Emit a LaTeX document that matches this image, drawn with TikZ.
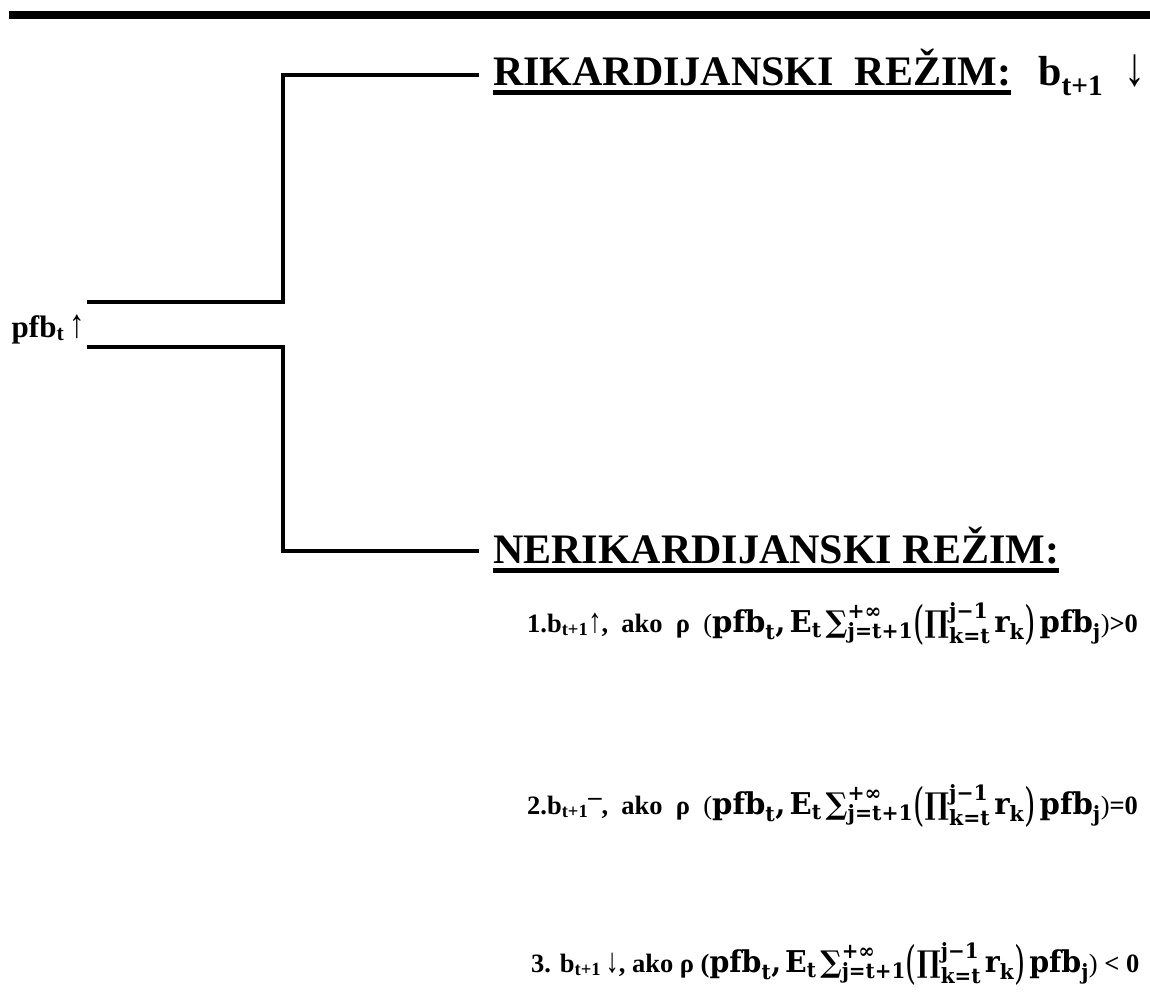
\documentclass[tikz,border=0pt]{standalone}
\usepackage{fontspec}
\usepackage{amsmath}
\usepackage{graphicx}
\setmainfont{Liberation Serif}
\newfontfamily\mf{DejaVu Serif}
\newcommand\Mb[1]{\text{\mf\bfseries #1}}
\newcommand\bp[1]{\mbox{\raisebox{-0.22em}{\scalebox{1}[1.5]{\mf\mdseries #1}}}}
\newcommand\tall[1]{{\mdseries\scalebox{1}[1.3]{#1}}}
\newcommand\formula[1]{\scalebox{#1}[1]{\fontsize{30}{36}\selectfont$\Mb{pfb}_{\Mb{t}}\Mb{,}\,\Mb{E}_{\Mb{t}}\,\Mb{∑}_{\Mb{j=t+1}}^{\Mb{+∞}}\bp(\Mb{∏}_{\Mb{k=t}}^{\Mb{j−1}}\,\Mb{r}_{\Mb{k}}\bp)\,\Mb{pfb}_{\Mb{j}}$}}
\tikzset{
  conn/.style={line width=3.5pt, line join=miter},
  topbar/.style={line width=8pt},
  uline/.style={line width=5pt},
  title/.style={inner sep=0pt, anchor=base west, font=\fontsize{42}{48}\selectfont\bfseries},
  cond/.style={inner sep=0pt, anchor=base west, font=\fontsize{26.5}{32}\selectfont\bfseries},
  src/.style={inner sep=0pt, anchor=base west, font=\fontsize{31}{36}\selectfont\bfseries}
}
\begin{document}
\begin{tikzpicture}[x=1pt,y=-1pt]
\useasboundingbox (0,0) rectangle (1150,1005);
% top rule
\coordinate (barL) at (9,14.5);
\coordinate (barR) at (1150,14.5);
\draw[topbar] (barL) -- (barR);
% source node
\node[src] (pfb) at (11.5,337) {pfb\textsubscript{t}\,\tall{↑}};
% titles
\node[title] (rik) at (493,85) {RIKARDIJANSKI\ \ REŽIM:};
\draw[uline] ([yshift=-7.5pt]rik.base west) -- ([yshift=-7.5pt]rik.base east);
\node[title] (rikb) at (1038,85) {b\textsubscript{t+1}\ \ \tall{↓}};
\node[title] (ner) at (493,563) {NERIKARDIJANSKI REŽIM:};
\draw[uline] ([yshift=-7.5pt]ner.base west) -- ([yshift=-7.5pt]ner.base east);
% connectors
\coordinate (u0) at (87,302);
\coordinate (u1) at (283,302);
\coordinate (u2) at (283,75);
\coordinate (u3) at (479,75);
\coordinate (d0) at (87,347);
\coordinate (d1) at (283,347);
\coordinate (d2) at (283,551);
\coordinate (d3) at (479,551);
\draw[conn] (u0) -- (u1) -- (u2) -- (u3);
\draw[conn] (d0) -- (d1) -- (d2) -- (d3);
% conditions
\node[cond] (c1) at (527,632) {1.b\textsubscript{t+1}\tall{↑},\ \ ako\ \ ρ\ \ {\mdseries (}\formula{0.971}{\mdseries )}>0};
\node[cond] (c2) at (527,814) {2.b\textsubscript{t+1}\raisebox{0.32em}{–},\ \ ako\ \ ρ\ \ {\mdseries (}\formula{0.971}{\mdseries )}=0};
\node[cond] (c3) at (531,972) {3. b\textsubscript{t+1}\,\tall{↓}, ako ρ (\formula{0.948}{\mdseries )} < 0};
\end{tikzpicture}
\end{document}
